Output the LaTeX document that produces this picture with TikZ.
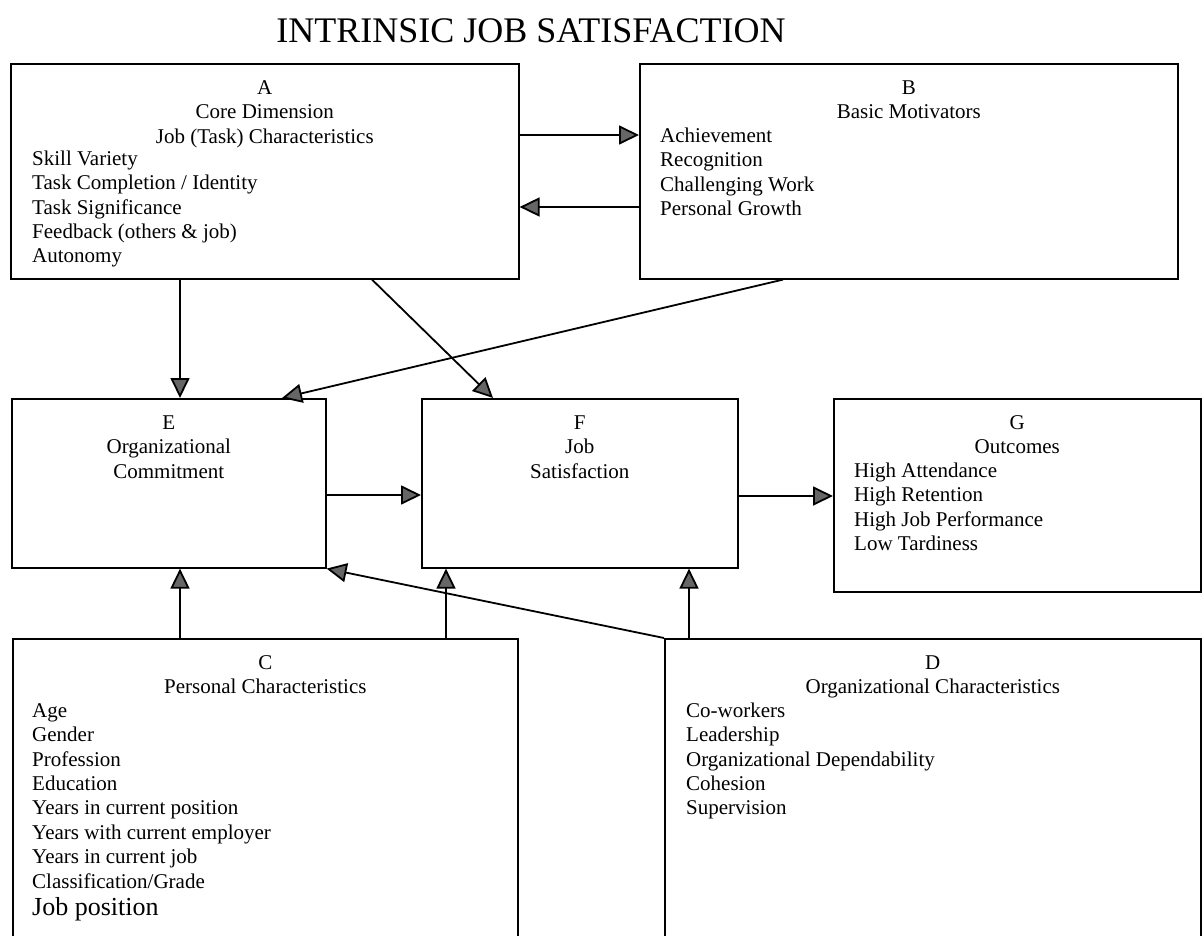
\documentclass[tikz,border=0pt]{standalone}
\usepackage{fontspec}
\setmainfont{Liberation Serif}
\usetikzlibrary{arrows.meta}
\usetikzlibrary{positioning}
\definecolor{tipgray}{rgb}{0.4,0.4,0.4}
\newcommand{\boxfont}{\fontsize{21}{24.4}\selectfont}

\begin{document}
\begin{tikzpicture}[line join=miter,x=1pt,y=-1pt,
  >={Triangle[length=20pt,width=19pt,fill=tipgray]},
  box/.style={draw,line width=1.6pt,anchor=north west,inner sep=0pt},
  hd/.style={align=center,inner sep=0pt,font=\boxfont},
  itm/.style={align=left,inner sep=0pt,font=\boxfont},
  arr/.style={->,line width=1.8pt}]
\useasboundingbox (0,0) rectangle (1202,936);
\clip (0,0) rectangle (1202,936);
\node[font=\fontsize{36}{42}\selectfont] (title) at (531,31) {INTRINSIC JOB SATISFACTION};
% boxes
\node[box,minimum width=508pt,minimum height=215pt] (A) at (10,63) {};
\node[box,minimum width=538pt,minimum height=215pt] (B) at (639,63) {};
\node[box,minimum width=314pt,minimum height=169pt] (E) at (11,398) {};
\node[box,minimum width=316pt,minimum height=169pt] (F) at (421,398) {};
\node[box,minimum width=367pt,minimum height=193pt] (G) at (833,398) {};
\node[box,minimum width=505pt,minimum height=330pt] (C) at (12,638) {};
\node[box,minimum width=536pt,minimum height=330pt] (D) at (664,638) {};
% texts
\node[hd,below=14pt of A.north] (Ahd) {\strut A\\Core Dimension\\Job (Task) Characteristics};
\node[itm,below right=85pt and 22pt of A.north west] (Aitm) {\strut Skill Variety\\Task Completion / Identity\\Task Significance\\Feedback (others \& job)\\Autonomy};
\node[hd,below=14pt of B.north] (Bhd) {\strut B\\Basic Motivators};
\node[itm,below right=62pt and 21pt of B.north west] (Bitm) {\strut Achievement\\Recognition\\Challenging Work\\Personal Growth};
\node[hd,below=14pt of E.north] (Ehd) {\strut E\\Organizational\\Commitment};
\node[hd,below=14pt of F.north] (Fhd) {\strut F\\Job\\Satisfaction};
\node[hd,below=14pt of G.north] (Ghd) {\strut G\\Outcomes};
\node[itm,below right=62pt and 21pt of G.north west] (Gitm) {\strut High Attendance\\High Retention\\High Job Performance\\Low Tardiness};
\node[hd,below=14pt of C.north] (Chd) {\strut C\\Personal Characteristics};
\node[itm,below right=62pt and 20pt of C.north west] (Citm) {\strut Age\\Gender\\Profession\\Education\\Years in current position\\Years with current employer\\Years in current job\\Classification/Grade\\[3pt]{\fontsize{26}{30}\selectfont Job position}};
\node[hd,below=14pt of D.north] (Dhd) {\strut D\\Organizational Characteristics};
\node[itm,below right=62pt and 22pt of D.north west] (Ditm) {\strut Co-workers\\Leadership\\Organizational Dependability\\Cohesion\\Supervision};
% arrows
\draw[arr] ([yshift=-72pt]A.north east) -- ([yshift=-72pt]B.north west);
\draw[arr] ([yshift=-144pt]B.north west) -- ([yshift=-144pt]A.north east);
\draw[arr] ([xshift=170pt]A.south west) -- ([xshift=169pt]E.north west);
\draw[arr] ([xshift=362pt]A.south west) -- ([xshift=72pt]F.north west);
\draw[arr] ([xshift=144pt]B.south west) -- ([xshift=271pt]E.north west);
\draw[arr] ([yshift=-97pt]E.north east) -- ([yshift=-97pt]F.north west);
\draw[arr] ([yshift=-98pt]F.north east) -- ([yshift=-98pt]G.north west);
\draw[arr] ([xshift=168pt]C.north west) -- ([xshift=169pt]E.south west);
\draw[arr] ([xshift=434pt]C.north west) -- ([xshift=25pt]F.south west);
\draw[arr] ([xshift=25pt]D.north west) -- ([xshift=268pt]F.south west);
\draw[arr] (D.north west) -- (E.south east);
\end{tikzpicture}
\end{document}
